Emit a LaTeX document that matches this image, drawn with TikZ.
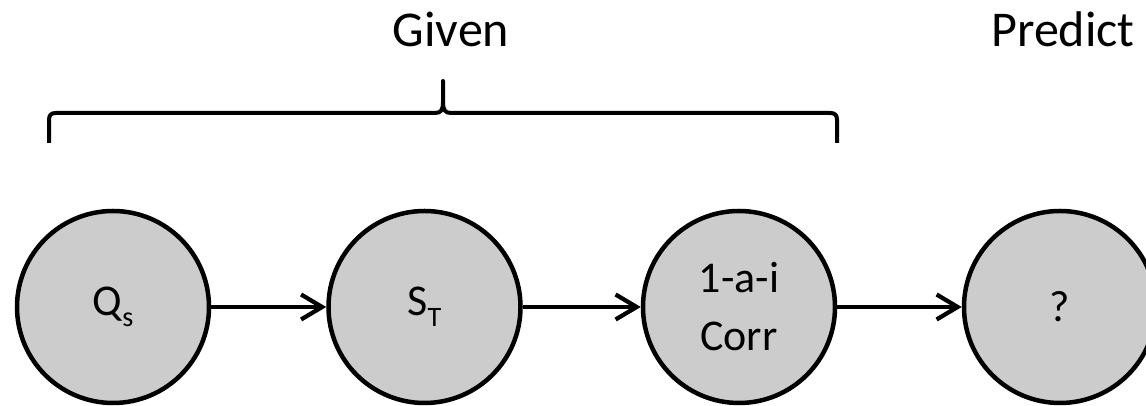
\documentclass[tikz,border=0pt]{standalone}
\usepackage{fontspec}
\setmainfont{Carlito}
\usetikzlibrary{arrows.meta}
\newcommand{\lowsub}[1]{\raisebox{-0.22cm}{\fontsize{16}{16}\selectfont #1}}
\tikzset{
	var/.style={circle, draw, fill=black!20, line width=0.09cm, minimum size=3.84cm, inner sep=0pt, align=center, font=\fontsize{25}{33}\selectfont},
	flow/.style={line width=0.085cm, -{Straight Barb[length=0.42cm, width=0.5cm]}},
	brace/.style={line width=0.08cm, line join=round},
	head/.style={anchor=base, font=\fontsize{28.5}{34}\selectfont}
}
\begin{document}
\begin{tikzpicture}
	\useasboundingbox (0,0) rectangle (22.92,8.12);
	% chain
	\node[var] (qs) at (2.26,1.98) {Q\lowsub{s}};
	\node[var] (st) at (8.49,1.98) {S\lowsub{T}};
	\node[var] (corr) at (14.78,1.98) {1-a-i\\Corr};
	\node[var] (pred) at (21.2,1.98) {?};
	\draw[flow] (qs) -- (st);
	\draw[flow] (st) -- (corr);
	\draw[flow] (corr) -- (pred);
	% bracket
	\draw[brace] (0.98,5.26) -- (0.98,5.72)
		.. controls (0.98,5.82) and (1.02,5.86) .. (1.12,5.86)
		-- (8.70,5.86)
		.. controls (8.82,5.86) and (8.86,5.92) .. (8.86,6.08)
		-- (8.86,6.50) -- (8.86,6.08)
		.. controls (8.86,5.92) and (8.90,5.86) .. (9.02,5.86)
		-- (16.60,5.86)
		.. controls (16.70,5.86) and (16.74,5.82) .. (16.74,5.72)
		-- (16.74,5.26);
	% labels
	\node[head] (given) at (9.02,7.18) {Given};
	\node[head] (predict) at (21.26,7.18) {Predict};
\end{tikzpicture}
\end{document}
